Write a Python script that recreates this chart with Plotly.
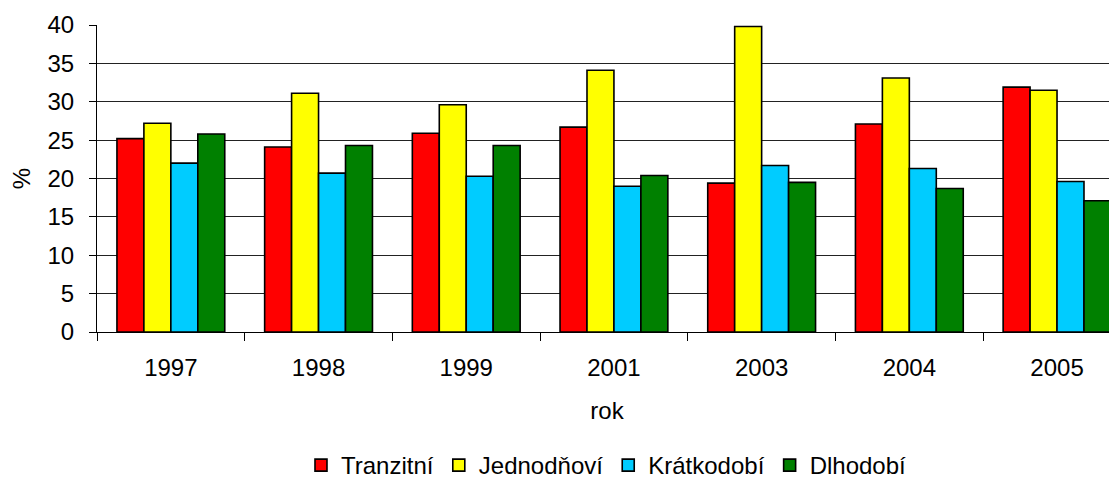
import plotly.graph_objects as go

years = ["1997", "1998", "1999", "2001", "2003", "2004", "2005"]
tranzitni = [25.2, 24.1, 25.9, 26.7, 19.4, 27.1, 31.9]
jednodnovi = [27.2, 31.1, 29.6, 34.1, 39.8, 33.1, 31.5]
kratkodobi = [22.0, 20.7, 20.3, 19.0, 21.7, 21.3, 19.6]
dlhodobi = [25.8, 24.3, 24.3, 20.4, 19.5, 18.7, 17.1]

series = [
    ("Tranzitní", tranzitni, "#FF0000"),
    ("Jednodňoví", jednodnovi, "#FFFF00"),
    ("Krátkodobí", kratkodobi, "#00CCFF"),
    ("Dlhodobí", dlhodobi, "#008000"),
]

fig = go.Figure()
for name, vals, col in series:
    fig.add_trace(go.Bar(
        x=years, y=vals, name=name,
        marker=dict(color=col, line=dict(color="black", width=1.6)),
    ))

font = dict(family="Liberation Sans, Arial, sans-serif", size=24, color="black")

fig.update_layout(
    width=1109, height=480,
    margin=dict(l=89, r=0, t=17, b=156),
    paper_bgcolor="white", plot_bgcolor="white",
    font=font,
    barmode="group", bargap=0.27, bargroupgap=0,
    showlegend=True,
    legend=dict(orientation="h", x=0.4995, xanchor="center", y=-0.437, yanchor="middle",
                font=dict(size=24), itemwidth=30, tracegroupgap=0),
    xaxis=dict(
        type="category", range=[-0.5, 6.406],
        showline=True, linecolor="black", linewidth=1,
        ticks="outside", tickson="boundaries", ticklen=8, tickcolor="black",
        showgrid=False, ticklabelstandoff=14,
        title=dict(text="rok", standoff=22, font=dict(size=24)),
    ),
    yaxis=dict(
        range=[0, 40], dtick=5, tick0=0,
        showline=True, linecolor="black", linewidth=1,
        ticks="outside", ticklen=7, tickcolor="black",
        showgrid=True, gridcolor="#222222", gridwidth=1,
        zeroline=False, ticklabelstandoff=10,
        title=dict(text="%", standoff=14, font=dict(size=24)),
    ),
)

fig.write_html("out.html")
